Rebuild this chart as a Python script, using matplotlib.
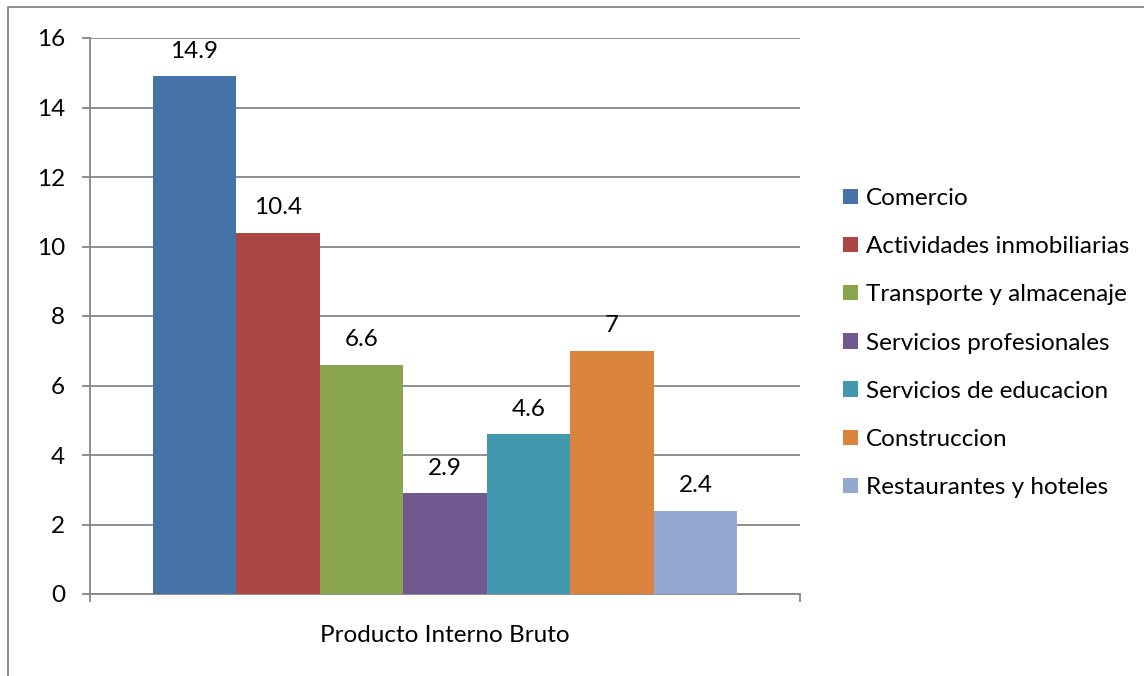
import matplotlib.pyplot as plt
from matplotlib.lines import Line2D
from matplotlib.patches import Patch

# PIB por sector
sectores = ['Comercio', 'Actividades inmobiliarias', 'Transporte y almacenaje',
            'Servicios profesionales', 'Servicios de educacion', 'Construccion',
            'Restaurantes y hoteles']
valores = [14.9, 10.4, 6.6, 2.9, 4.6, 7, 2.4]
colores = ['#4572A7', '#AA4643', '#89A54E', '#71588F', '#4198AF', '#DB843D', '#93A9CF']
etiquetas = ['14.9', '10.4', '6.6', '2.9', '4.6', '7', '2.4']
categoria = 'Producto Interno Bruto'

plt.rcParams['font.family'] = ['Lato', 'DejaVu Sans']
FS = 17.5
W, H = 1144, 676
fig = plt.figure(figsize=(W / 100, H / 100), dpi=100)
ax = fig.add_axes([90 / W, 1 - 594 / H, 710 / W, 556 / H])

grid_c = '#868686'
# Excel-style clustered bars: gap width 150% split on both sides
for i, (v, c, lab) in enumerate(zip(valores, colores, etiquetas)):
    x = 0.75 + 0.5 + i
    ax.bar(x, v, width=1.0, color=c, zorder=3)
    ax.annotate(lab, (x, v), xytext=(0, 18), textcoords='offset points',
                ha='center', va='center', fontsize=FS, color='black')

ax.set_xlim(0, 8.5)
ax.set_ylim(0, 16)
ax.set_yticks(range(0, 17, 2))
ax.set_xticks([0, 8.5])
ax.set_xticklabels([])
ax.yaxis.grid(True, color=grid_c, linewidth=1.3, zorder=0)
for s in ['top', 'right']:
    ax.spines[s].set_visible(False)
for s in ['left', 'bottom']:
    ax.spines[s].set_color(grid_c)
    ax.spines[s].set_linewidth(1.3)
ax.tick_params(axis='y', length=6, width=1.3, color=grid_c, pad=12, labelsize=FS)
ax.tick_params(axis='x', length=6, width=1.3, color=grid_c)

ax.text(0.5, -42 / 556, categoria, transform=ax.transAxes,
        ha='center', va='center', fontsize=FS)

handles = [Patch(facecolor=c, edgecolor='none') for c in colores]
fig.legend(handles, sectores, loc='center left', bbox_to_anchor=(843 / W, 1 - 343 / H),
           frameon=False, fontsize=FS, handlelength=0.6, handleheight=0.6,
           handletextpad=0.35, labelspacing=1.12, borderpad=0, borderaxespad=0)

# chart frame
fig.add_artist(Line2D([8 / W, 8 / W, 1], [0, 1 - 7 / H, 1 - 7 / H],
                      transform=fig.transFigure, color=grid_c, linewidth=1.3))

fig.savefig('out.png', dpi=100)
